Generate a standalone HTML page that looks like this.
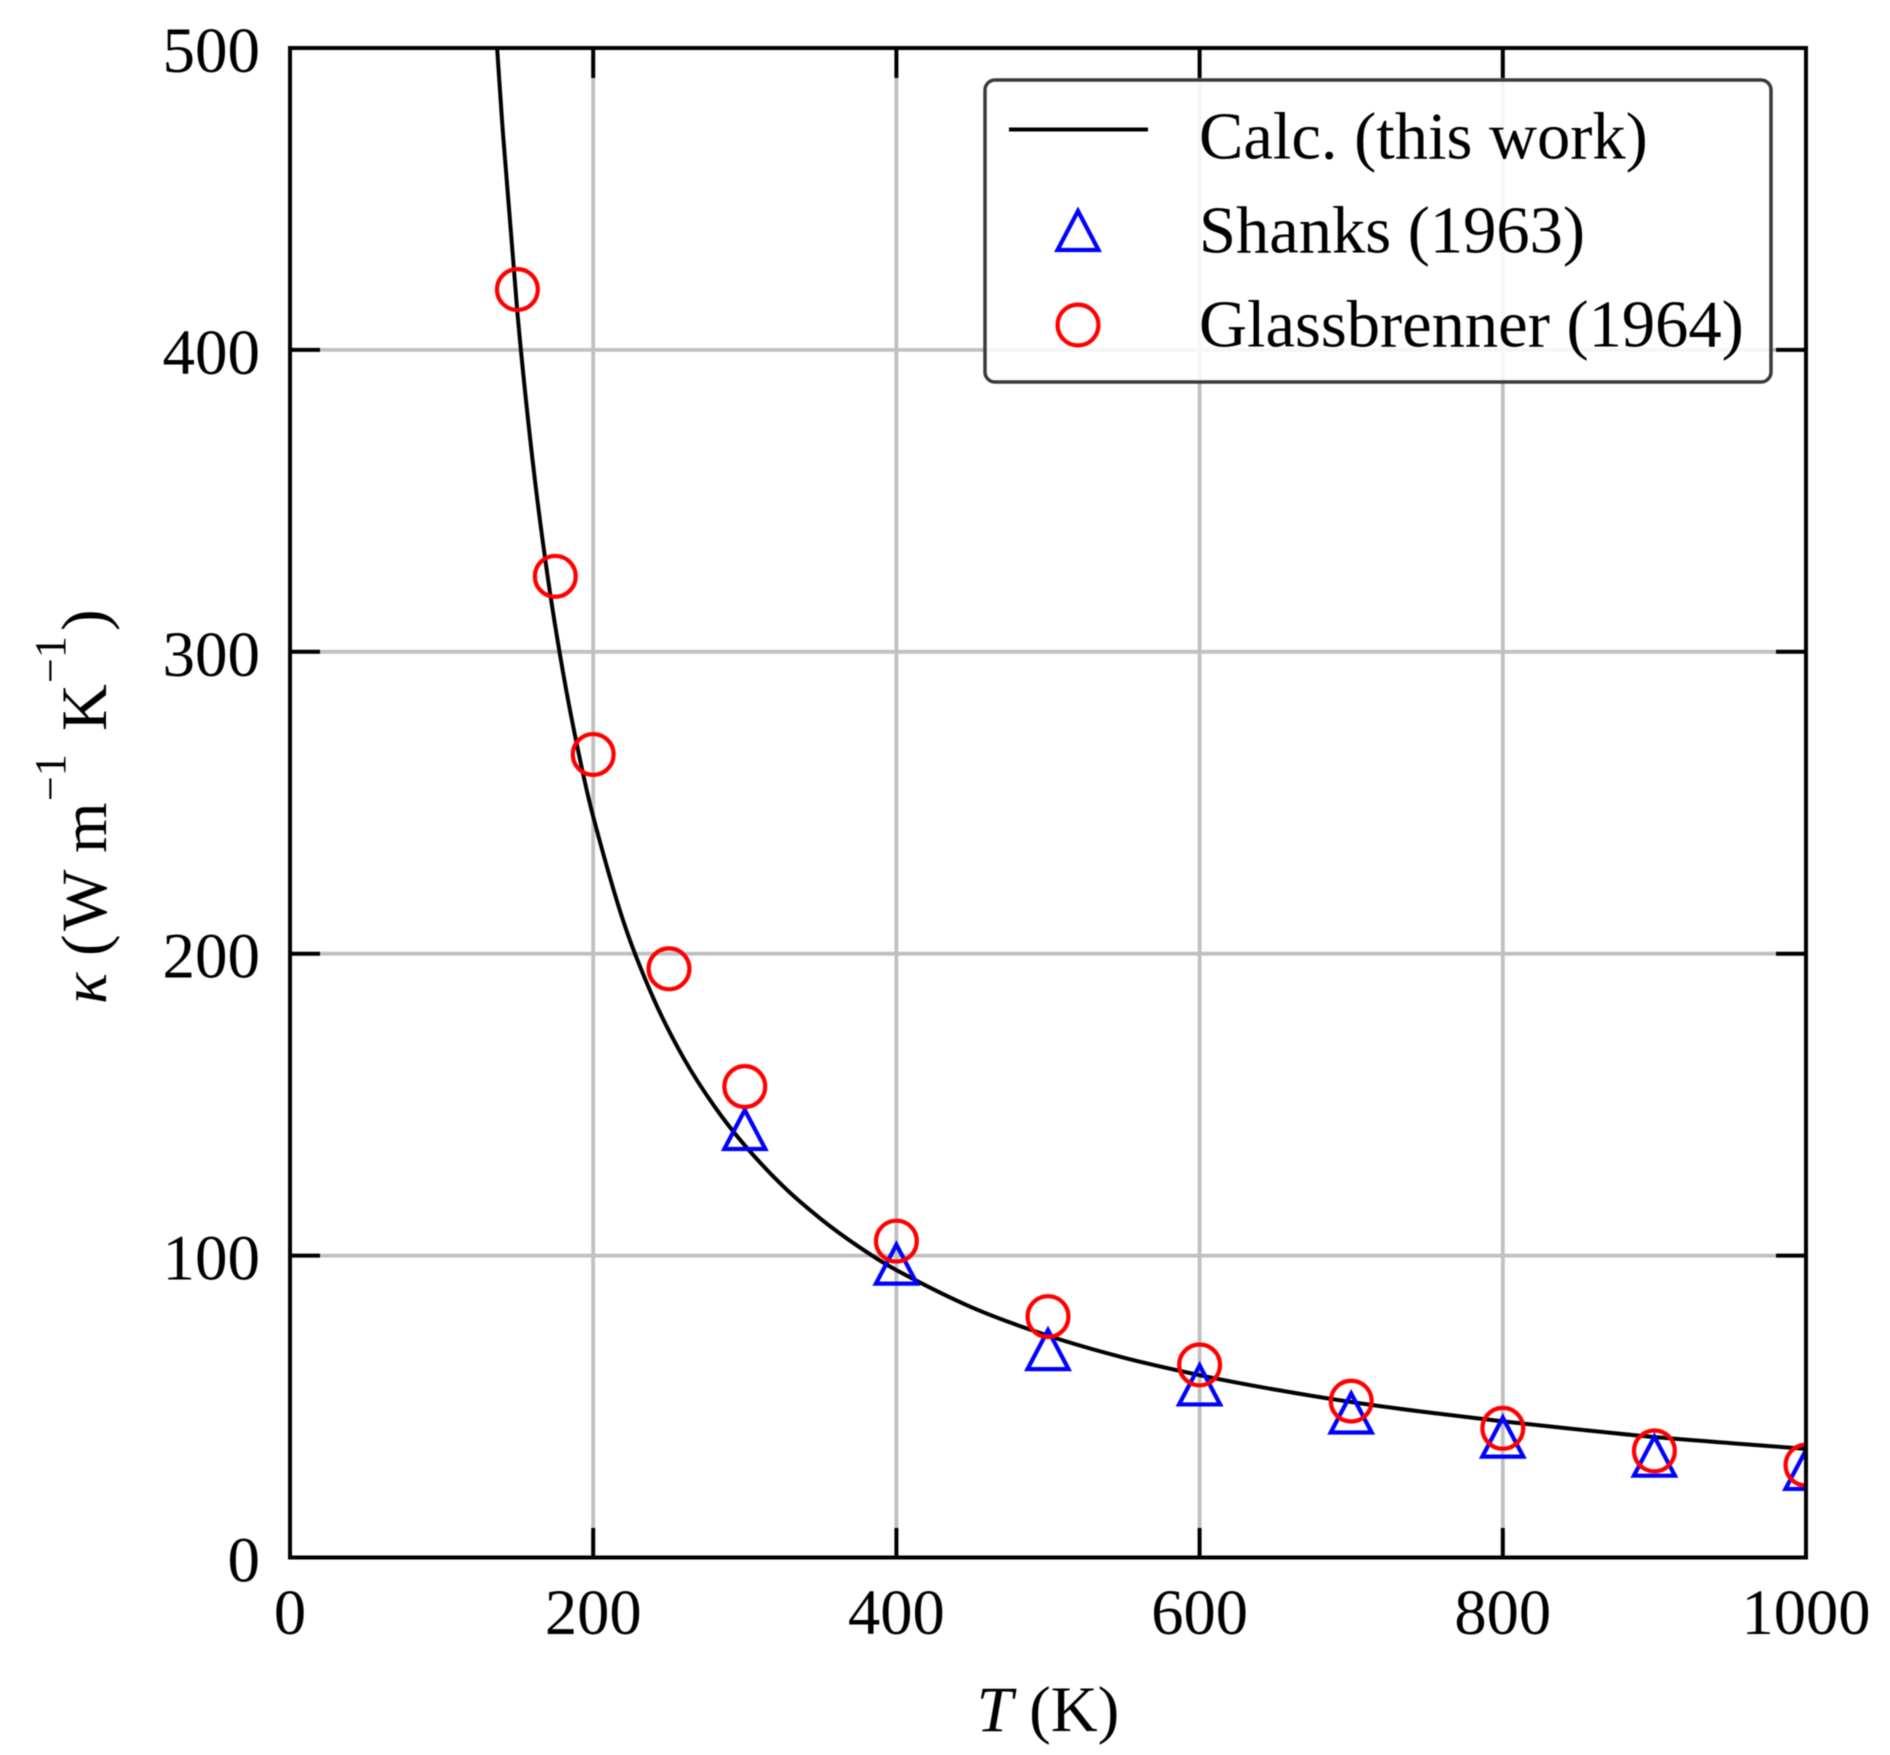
<!DOCTYPE html>
<html lang="en">
<head>
<meta charset="utf-8">
<title>Thermal conductivity chart</title>
<style>
html,body{margin:0;padding:0;background:#fff;}
body{width:1890px;height:1755px;overflow:hidden;}
svg{display:block;filter:blur(0.5px);}
text{font-family:"Liberation Serif","Times New Roman",serif;fill:#000;}
</style>
</head>
<body>
<svg id="chart" xmlns="http://www.w3.org/2000/svg" width="1890" height="1755" viewBox="0 0 1890 1755">
  <defs>
    <clipPath id="plot-clip"><rect x="290" y="48" width="1516" height="1509.5"/></clipPath>
  </defs>
  <rect x="0" y="0" width="1890" height="1755" fill="#fff"/>
  <g id="grid"></g>
  <g id="ticks"></g>
  <g id="series" clip-path="url(#plot-clip)"></g>
  <rect x="290" y="48" width="1516" height="1509.5" fill="none" stroke="#000" stroke-width="4"/>
  <g id="tick-labels"></g>

  <text x="1048" y="1731" font-size="65" text-anchor="middle"><tspan font-style="italic">T</tspan> (K)</text>

  <g transform="translate(106,1002) rotate(-90)">
    <text x="-2" y="0" font-size="65" font-style="italic">κ</text>
    <text x="46" y="0" font-size="65">(</text>
    <text x="71" y="0" font-size="65">W</text>
    <text x="149" y="0" font-size="65">m</text>
    <text x="201" y="-41" font-size="44">−1</text>
    <text x="271" y="0" font-size="65">K</text>
    <text x="319" y="-41" font-size="44">−1</text>
    <text x="371" y="0" font-size="65">)</text>
  </g>

  <g>
    <rect x="985" y="80" width="786" height="302" rx="10" ry="10" fill="#fff" fill-opacity="0.85" stroke="#3a3a3a" stroke-width="3.5"/>
    <line x1="1009" y1="129.5" x2="1148" y2="129.5" stroke="#000" stroke-width="4"/>
    <polygon points="1078,211 1057.5,250 1098.5,250" fill="none" stroke="#0000ff" stroke-width="4.2"/>
    <circle cx="1078" cy="325" r="20.4" fill="none" stroke="#ff0000" stroke-width="4.2"/>
    <text x="1199" y="158.5" font-size="66.5">Calc. (this work)</text>
    <text x="1199" y="252.5" font-size="66.5">Shanks (1963)</text>
    <text x="1199" y="346.5" font-size="66.5">Glassbrenner (1964)</text>
  </g>
</svg>
<script>
// Axis ticks
const xTicks = [0, 200, 400, 600, 800, 1000];
const yTicks = [0, 100, 200, 300, 400, 500];
const xMax = 1000;
const yMax = 500;

// Calc. (this work)
const calcT = [136.5, 140, 150, 160, 170, 180, 190, 200, 220, 240, 260, 280, 300, 325, 350, 375, 400, 450, 500, 550, 600, 650, 700, 750, 800, 850, 900, 950, 1000];
const calcK = [501, 475, 412.3, 363.5, 324.8, 293.5, 267.4, 245.4, 210.6, 184.9, 165.1, 149.4, 136.5, 123.1, 112.2, 103, 95.2, 82.8, 73.5, 66.2, 60.4, 55.6, 51.5, 48.1, 45.1, 42.4, 39.9, 37.9, 36];

// Shanks (1963)
const shanksT = [300, 400, 500, 600, 700, 800, 900, 1000];
const shanksK = [141.6, 97, 68.7, 57, 47.7, 39.7, 33.4, 29];

// Glassbrenner (1964)
const glassT = [150, 175, 200, 250, 300, 400, 500, 600, 700, 800, 900, 1000];
const glassK = [420, 325, 266, 195, 156, 104.8, 79.8, 63.8, 51.8, 42.8, 35.3, 30.6];

const NS = 'http://www.w3.org/2000/svg';
function sx(v) { return 290 + (v / xMax) * 1516; }
function sy(v) { return 1557.5 - (v / yMax) * 1509.5; }
function mk(tag, parent) {
  const el = document.createElementNS(NS, tag);
  parent.appendChild(el);
  return el;
}
function styleLine(el, x1, y1, x2, y2, color, w) {
  el.setAttribute('x1', x1);
  el.setAttribute('y1', y1);
  el.setAttribute('x2', x2);
  el.setAttribute('y2', y2);
  el.setAttribute('stroke', color);
  el.setAttribute('stroke-width', w);
}

const gridG = document.getElementById('grid');
const ticksG = document.getElementById('ticks');
const labelsG = document.getElementById('tick-labels');
const seriesG = document.getElementById('series');

xTicks.forEach(function (t) {
  const x = sx(t);
  if (t > 0 && t < xMax) {
    const g = mk('line', gridG);
    
    
    styleLine(g, x, 48, x, 1557.5, '#c0c0c0', 3.8);
    const a = mk('line', ticksG);
    
    
    styleLine(a, x, 1557.5, x, 1528, '#000', 4);
    const b = mk('line', ticksG);
    
    
    styleLine(b, x, 48, x, 78, '#000', 4);
  }
  const l = mk('text', labelsG);
  
  
  l.setAttribute('x', x);
  l.setAttribute('y', 1634);
  l.setAttribute('font-size', 64.5);
  l.setAttribute('text-anchor', 'middle');
  l.textContent = String(t);
});

yTicks.forEach(function (v) {
  const y = sy(v);
  if (v > 0 && v < yMax) {
    const g = mk('line', gridG);
    
    
    styleLine(g, 290, y, 1806, y, '#c0c0c0', 3.8);
    const a = mk('line', ticksG);
    
    
    styleLine(a, 290, y, 320, y, '#000', 4);
    const b = mk('line', ticksG);
    
    
    styleLine(b, 1776, y, 1806, y, '#000', 4);
  }
  const l = mk('text', labelsG);
  
  
  l.setAttribute('x', 260);
  l.setAttribute('y', y + 24);
  l.setAttribute('font-size', 65);
  l.setAttribute('text-anchor', 'end');
  l.textContent = String(v);
});

// Curve: smooth path through the read values (non-uniform Catmull-Rom in T)
(function () {
  const n = calcT.length;
  const px = calcT.map(function (t) { return sx(t); });
  const py = calcK.map(function (k) { return sy(k); });
  function tangent(i, arr) {
    const a = Math.max(i - 1, 0);
    const b = Math.min(i + 1, n - 1);
    return (arr[b] - arr[a]) / (calcT[b] - calcT[a]);
  }
  let d = 'M' + px[0].toFixed(2) + ' ' + py[0].toFixed(2);
  for (let i = 0; i < n - 1; i++) {
    const dt = (calcT[i + 1] - calcT[i]) / 3;
    const c1x = px[i] + tangent(i, px) * dt;
    const c1y = py[i] + tangent(i, py) * dt;
    const c2x = px[i + 1] - tangent(i + 1, px) * dt;
    const c2y = py[i + 1] - tangent(i + 1, py) * dt;
    d += 'C' + c1x.toFixed(2) + ' ' + c1y.toFixed(2) + ' ' + c2x.toFixed(2) + ' ' + c2y.toFixed(2) + ' ' + px[i + 1].toFixed(2) + ' ' + py[i + 1].toFixed(2);
  }
  const path = mk('path', seriesG);
  
  
  path.setAttribute('d', d);
  path.setAttribute('fill', 'none');
  path.setAttribute('stroke', '#000');
  path.setAttribute('stroke-width', 4);
})();

shanksT.forEach(function (t, i) {
  const x = sx(t);
  const y = sy(shanksK[i]);
  const p = mk('polygon', seriesG);
  
  
  p.setAttribute('points', x + ',' + (y - 20) + ' ' + (x - 20.5) + ',' + (y + 19) + ' ' + (x + 20.5) + ',' + (y + 19));
  p.setAttribute('fill', 'none');
  p.setAttribute('stroke', '#0000ff');
  p.setAttribute('stroke-width', 4.2);
});

glassT.forEach(function (t, i) {
  const c = mk('circle', seriesG);
  
  
  c.setAttribute('cx', sx(t));
  c.setAttribute('cy', sy(glassK[i]));
  c.setAttribute('r', 20.4);
  c.setAttribute('fill', 'none');
  c.setAttribute('stroke', '#ff0000');
  c.setAttribute('stroke-width', 4.2);
});
</script>
</body>
</html>
